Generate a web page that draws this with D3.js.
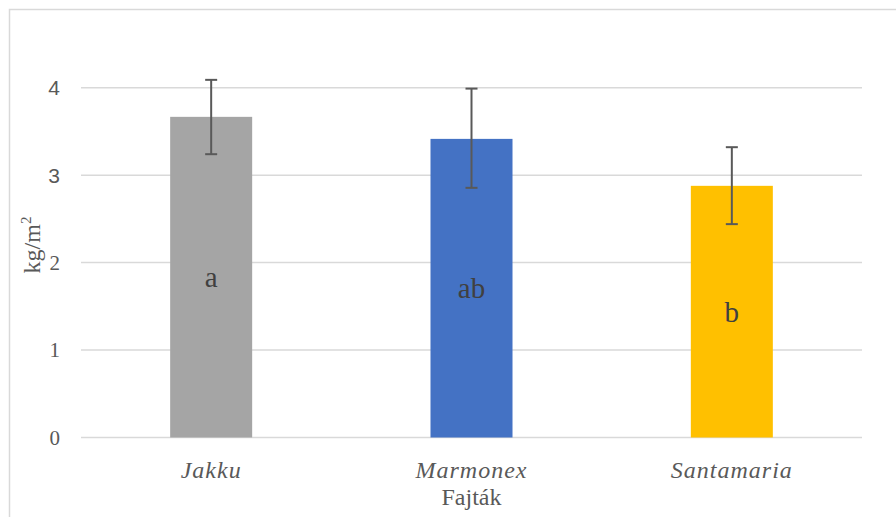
<!DOCTYPE html>
<html>
<head>
<meta charset="utf-8">
<script src="https://cdn.jsdelivr.net/npm/d3@7"></script>
<style>
  html, body { margin: 0; padding: 0; background: #fff; }
  svg { display: block; }
  .serif { font-family: 'Liberation Serif', 'Times New Roman', 'DejaVu Serif', serif; }
  .sans { font-family: 'Liberation Sans', Arial, sans-serif; }
</style>
</head>
<body>
<svg id="chart" width="896" height="517"></svg>
<script>
const categories = ["Jakku", "Marmonex", "Santamaria"];
const values = [3.667, 3.415, 2.878];
const errLow = [3.24, 2.855, 2.44];
const errHigh = [4.09, 3.99, 3.32];
const letters = ["a", "ab", "b"];
const colors = ["#A5A5A5", "#4472C4", "#FFC000"];
const yTicks = [0, 1, 2, 3, 4];
const yTitle = "kg/m";
const xTitle = "Fajták";

const svg = d3.select("#chart");
const mLeft = 81, mRight = 862, mTop = 44, mBottom = 437.5;

svg.append("rect").attr("x", 9.5).attr("y", 9.5).attr("width", 900).attr("height", 600)
  .attr("fill", "none").attr("stroke", "#D9D9D9").attr("stroke-width", 1.5);

const x = d3.scaleBand().domain(categories).range([mLeft, mRight]).paddingInner(0.685).paddingOuter(0.3425);
const y = d3.scaleLinear().domain([0, 4.5]).range([mBottom, mTop]);

// gridlines
svg.append("g").selectAll("line").data(yTicks).join("line")
  .attr("x1", mLeft).attr("x2", mRight)
  .attr("y1", d => y(d)).attr("y2", d => y(d))
  .attr("stroke", "#D9D9D9").attr("stroke-width", 1.5);

// y tick labels
svg.append("g").selectAll("text").data(yTicks).join("text")
  .attr("class", d => d >= 3 ? "sans" : "serif")
  .attr("x", 60).attr("y", d => y(d)).attr("dy", "0.35em")
  .attr("text-anchor", "end")
  .attr("font-size", d => d >= 3 ? 21 : 21)
  .attr("fill", "#595959")
  .text(d => d);

// bars
const idx = d3.range(categories.length);
svg.append("g").selectAll("rect").data(idx).join("rect")
  .attr("x", i => x(categories[i])).attr("width", x.bandwidth())
  .attr("y", i => y(values[i])).attr("height", i => y(0) - y(values[i]))
  .attr("fill", i => colors[i]);

// error bars
const eg = svg.append("g").attr("stroke", "#595959").attr("stroke-width", 2);
idx.forEach(i => {
  const cx = x(categories[i]) + x.bandwidth() / 2;
  eg.append("line").attr("x1", cx).attr("x2", cx).attr("y1", y(errLow[i])).attr("y2", y(errHigh[i]));
  eg.append("line").attr("x1", cx - 6).attr("x2", cx + 6).attr("y1", y(errLow[i])).attr("y2", y(errLow[i]));
  eg.append("line").attr("x1", cx - 6).attr("x2", cx + 6).attr("y1", y(errHigh[i])).attr("y2", y(errHigh[i]));
});

// letters
svg.append("g").selectAll("text").data(idx).join("text")
  .attr("class", "serif")
  .attr("x", i => x(categories[i]) + x.bandwidth() / 2)
  .attr("y", i => (y(values[i]) + y(0)) / 2)
  .attr("dy", "0.35em")
  .attr("text-anchor", "middle")
  .attr("font-size", 29).attr("fill", "#404040")
  .text(i => letters[i]);

// category labels
svg.append("g").selectAll("text").data(categories).join("text")
  .attr("class", "serif")
  .attr("x", d => x(d) + x.bandwidth() / 2).attr("y", 478)
  .attr("text-anchor", "middle")
  .attr("font-style", "italic").attr("font-size", 24).attr("fill", "#595959")
  .attr("letter-spacing", 1)
  .text(d => d);

// x title
svg.append("text").attr("class", "serif").attr("x", (mLeft + mRight) / 2).attr("y", 505)
  .attr("text-anchor", "middle")
  .attr("font-size", 24).attr("fill", "#595959").text(xTitle);

// y title
const yt = svg.append("text").attr("class", "serif")
  .attr("transform", "translate(40,245) rotate(-90)")
  .attr("text-anchor", "middle")
  .attr("font-size", 24).attr("fill", "#595959");
yt.append("tspan").text(yTitle);
yt.append("tspan").attr("font-size", 15).attr("dy", "-0.6em").text("2");
</script>
</body>
</html>
